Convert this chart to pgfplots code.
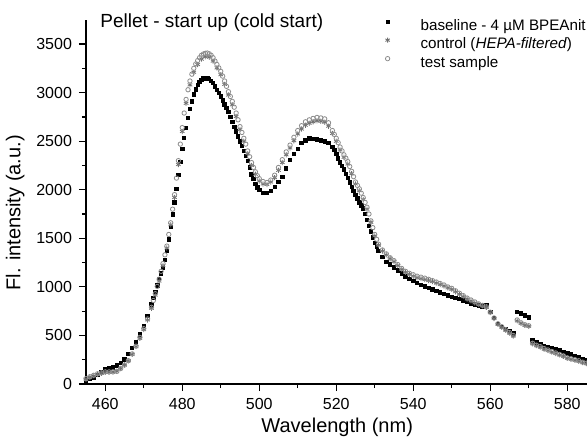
\documentclass[border=0pt]{standalone}
\usepackage{pgfplots}
\pgfplotsset{compat=1.18}
\usepackage{fontspec}
\setmainfont{Liberation Sans}
\definecolor{ctrl}{HTML}{707070}
\definecolor{tst}{HTML}{8C8C8C}
\begin{document}
\begin{tikzpicture}
\useasboundingbox (0,0) rectangle (293.5pt,220.5pt);
\begin{axis}[
  at={(43pt,28.5pt)}, anchor=south west,
  scale only axis, width=251.2pt, height=182.1pt,
  xmin=455, xmax=585.5, ymin=0, ymax=3750,
  axis x line*=bottom, axis y line*=left,
  axis line style={-, line width=0.6pt},
  tick align=outside, major tick length=3.5pt, minor tick length=2pt,
  tick style={line width=0.6pt, black},
  xtick={460,480,...,580}, ytick={0,500,...,3500},
  minor x tick num=1, minor y tick num=1,
  /pgf/number format/assume math mode=true,
  /pgf/number format/set thousands separator={},
  tick label style={font=\fontsize{8}{9}\selectfont},
  xlabel={Wavelength (nm)}, ylabel={Fl. intensity (a.u.)},
  label style={font=\fontsize{8.7}{10}\selectfont},
  every axis x label/.style={at={(axis description cs:0.5,-0.12)}, anchor=center},
  every axis y label/.style={at={(axis description cs:-0.141,0.47)}, rotate=90, anchor=center},
  title={Pellet - start up (cold start)},
  every axis title shift=0pt,
  title style={at={(axis description cs:0.028,0.978)}, anchor=base west, inner sep=0pt, font=\fontsize{9.5}{11}\selectfont},
  legend cell align=left,
  legend image code/.code={\path[draw=none,fill=none] (0pt,-2pt) rectangle (18pt,4pt); \draw[#1] plot coordinates {(2pt,2.2pt)};},
  legend style={draw=none, fill=none, inner sep=0pt, row sep=0.5pt,
    at={(axis description cs:0.5916,1.008)}, anchor=north west,
    font=\fontsize{7.6}{9}\selectfont,
    nodes={inner sep=0.5pt, text height=6pt, text depth=1.75pt}},
]
\addplot[only marks, mark=square*, mark size=0.85pt, black] table {
455 25
456 50
457 70
458 95
459 125
460 150
461 160
462 170
463 190
464 220
465 255
466 310
467 370
468 430
469 510
470 600
471 700
472 820
472.5 885
473 950
473.5 1015
474 1080
474.5 1140
475 1200
475.5 1280
476 1370
476.5 1490
477 1620
477.5 1745
478 1870
478.5 2010
479 2150
479.5 2290
480 2420
480.5 2535
481 2640
481.5 2740
482 2830
482.5 2910
483 2980
483.5 3035
484 3080
484.5 3110
485 3130
485.5 3145
486 3150
486.5 3148
487 3140
487.5 3122
488 3100
488.5 3065
489 3030
489.5 2995
490 2960
490.5 2920
491 2880
491.5 2840
492 2800
492.5 2750
493 2700
493.5 2650
494 2600
494.5 2550
495 2500
495.5 2450
496 2400
496.5 2350
497 2300
497.5 2230
498 2160
498.5 2110
499 2060
499.5 2025
500 2000
501 1965
502 1970
503 1990
504 2030
505 2080
506 2130
507 2220
508 2310
509 2370
510 2420
511 2480
512 2510
513 2530
514 2525
515 2520
516 2510
517 2500
518 2480
519 2440
519.5 2410
520 2370
520.5 2325
521 2280
521.5 2245
522 2210
522.5 2165
523 2120
523.5 2075
524 2030
524.5 1990
525 1950
525.5 1910
526 1870
526.5 1840
527 1810
527.5 1750
528 1690
528.5 1630
529 1570
529.5 1510
530 1450
530.5 1410
531 1370
532 1310
533 1260
534 1230
535 1200
536 1170
537 1140
538 1110
539 1085
540 1060
541 1040
542 1020
543 1005
544 990
545 975
546 960
547 945
548 930
549 912
550 898
551 888
552 874
553 860
554 846
555 832
556 820
557 808
558 800
559 812
560 745
561 680
562 620
563 590
564 570
565 548
566 520
567 745
568 725
569 705
570 685
571 450
572 430
573 415
574 395
575 380
576 370
577 355
578 345
579 330
580 315
581 305
582 290
583 275
584 260
585 245
};
\addlegendentry{baseline - 4 µM BPEAnit}
\addplot[only marks, mark=asterisk, mark size=1.3pt, ctrl, mark options={line width=0.4pt}] table {
455 50
456 70
457 85
458 100
459 110
460 120
461 122
462 125
463 132
464 160
465 195
466 240
467 305
468 385
469 470
470 560
471 660
472 780
473 915
474 1060
475 1220
476 1400
477 1640
478 1920
479 2260
480 2600
481 2890
482 3080
483 3210
484 3290
485 3345
486 3370
487 3365
488 3325
489 3255
490 3185
491 3085
492 2975
493 2875
494 2755
495 2620
496 2500
497 2370
498 2250
499 2160
500 2090
501 2060
502 2055
503 2080
504 2125
505 2200
506 2280
507 2360
508 2430
509 2505
510 2575
511 2625
512 2665
513 2685
514 2700
515 2710
516 2705
517 2695
518 2655
519 2580
520 2500
521 2410
522 2335
523 2265
524 2165
525 2060
526 1990
527 1900
528 1800
529 1665
530 1525
531 1430
532 1370
533 1330
534 1290
535 1260
536 1220
537 1180
538 1150
539 1130
540 1110
541 1095
542 1085
543 1075
544 1065
545 1055
546 1040
547 1025
548 1010
549 990
550 975
551 950
552 925
553 900
554 875
555 855
556 835
557 818
558 805
559 790
560 735
561 675
562 615
563 585
564 555
565 525
566 495
567 650
568 625
569 605
570 595
571 415
572 395
573 380
574 360
575 345
576 330
577 315
578 300
579 285
580 265
581 255
582 245
583 235
584 220
585 210
};
\addlegendentry{control (\textit{HEPA-filtered})}
\addplot[only marks, mark=o, mark size=1.1pt, tst, mark options={fill=white, line width=0.4pt}] table {
455 55
456 75
457 90
458 105
459 115
460 125
461 125
462 125
463 130
464 160
465 195
466 240
467 310
468 390
469 480
470 570
471 670
472 790
472.5 860
473 930
473.5 1005
474 1080
474.5 1160
475 1240
475.5 1330
476 1420
476.5 1540
477 1660
477.5 1800
478 1950
478.5 2120
479 2300
479.5 2470
480 2640
480.5 2790
481 2930
481.5 3030
482 3120
482.5 3190
483 3250
483.5 3295
484 3330
484.5 3360
485 3385
485.5 3398
486 3405
486.5 3408
487 3400
487.5 3385
488 3360
488.5 3325
489 3290
489.5 3255
490 3220
490.5 3170
491 3120
491.5 3065
492 3010
492.5 2960
493 2910
493.5 2850
494 2790
494.5 2720
495 2650
495.5 2590
496 2530
496.5 2470
497 2400
497.5 2340
498 2280
498.5 2230
499 2185
499.5 2145
500 2115
501 2085
502 2075
503 2100
504 2150
505 2230
506 2310
507 2390
508 2460
509 2540
510 2610
511 2660
512 2700
513 2720
514 2735
515 2745
516 2740
517 2730
518 2690
519 2610
519.5 2570
520 2530
520.5 2485
521 2440
521.5 2400
522 2360
522.5 2325
523 2290
523.5 2240
524 2190
524.5 2135
525 2080
525.5 2045
526 2010
526.5 1965
527 1920
527.5 1870
528 1820
528.5 1750
529 1680
529.5 1610
530 1540
530.5 1490
531 1440
532 1380
533 1340
534 1300
535 1270
536 1230
537 1190
538 1160
539 1140
540 1125
541 1110
542 1100
543 1090
544 1078
545 1065
546 1050
547 1035
548 1020
549 1000
550 985
551 960
552 935
553 910
554 885
555 865
556 845
557 825
558 810
559 795
560 740
561 680
562 620
563 590
564 560
565 530
566 500
567 660
568 630
569 610
570 600
571 420
572 400
573 385
574 365
575 350
576 335
577 320
578 305
579 290
580 270
581 260
582 250
583 240
584 225
585 215
};
\addlegendentry{test sample}
\end{axis}
\end{tikzpicture}
\end{document}
